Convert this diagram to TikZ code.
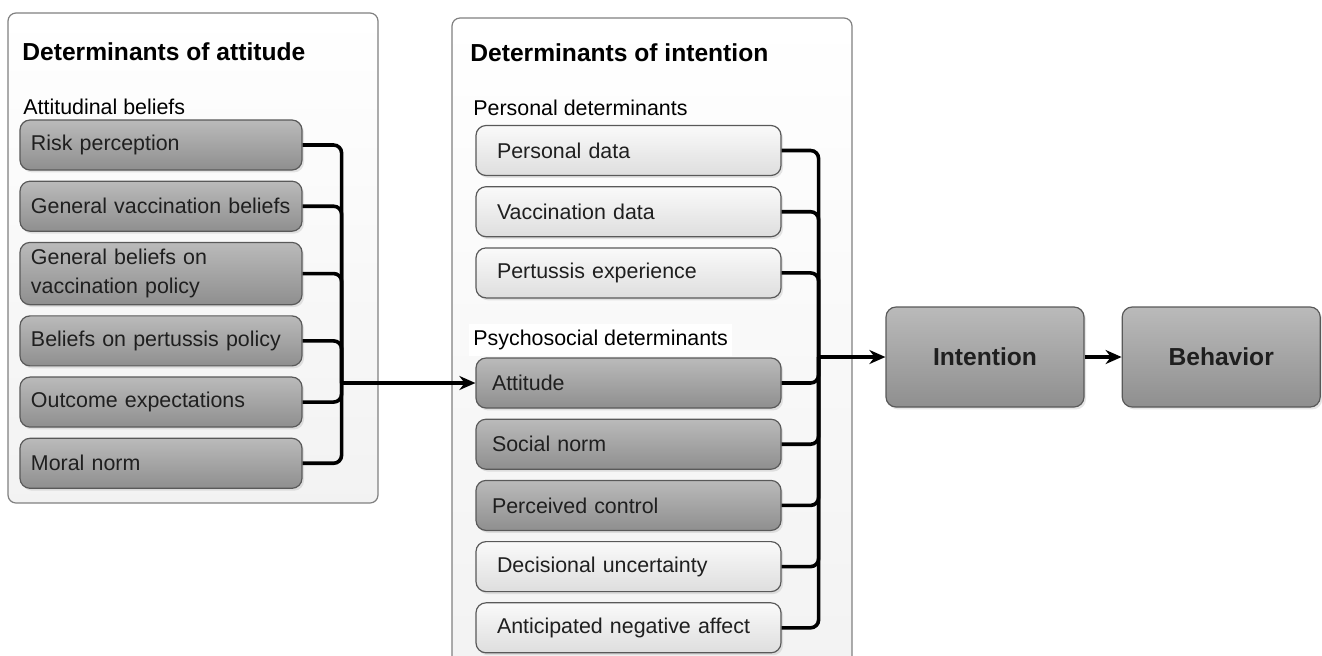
\documentclass[tikz,border=0pt]{standalone}
\usepackage{fontspec}
\setmainfont{Liberation Sans}
\usetikzlibrary{arrows.meta, positioning, shadows}

\begin{document}
\begin{tikzpicture}[x=0.5pt, y=-0.5pt, node distance=5pt, >=Stealth, font=\fontsize{10.7}{14.5}\selectfont]
  % Define styles
  \tikzstyle{panel} = [rectangle, rounded corners=4pt, draw=black!50, line width=0.6pt, top color=white, bottom color=black!5]
  \tikzstyle{heading} = [anchor=west, inner sep=0pt, font=\fontsize{12.3}{14}\selectfont\bfseries]
  \tikzstyle{group} = [anchor=west, inner sep=0pt]
  \tikzstyle{darkbox} = [rectangle, rounded corners=5pt, draw=black!65, line width=0.6pt, top color=black!27, bottom color=black!44, drop shadow={opacity=0.2, shadow xshift=1pt, shadow yshift=-1.2pt}, align=left, text=black!88, minimum height=25pt]
  \tikzstyle{lightbox} = [darkbox, top color=black!2, bottom color=black!13]
  \tikzstyle{attbox} = [darkbox, inner xsep=5.5pt, text width=130pt]
  \tikzstyle{intdark} = [darkbox, inner xsep=8pt, text width=136.5pt]
  \tikzstyle{intlight} = [lightbox, inner xsep=10.5pt, text width=131.5pt]
  \tikzstyle{stage} = [darkbox, align=center, minimum width=99pt, minimum height=50pt, font=\fontsize{12.3}{14}\selectfont\bfseries]
  \tikzstyle{line} = [draw, line width=1.8pt, rounded corners=4pt]
  \tikzstyle{arrow} = [line, sharp corners, -{Stealth[length=8pt, width=7pt]}]

  \clip (0,0) rectangle (1322,655);

  % Place nodes
  \node [panel, minimum width=185pt, minimum height=245pt] (attpanel) at (193,258) {};
  \node [panel, minimum width=200pt, minimum height=331pt] (intpanel) at (652,349) {};

  \node [heading] (atttitle) at (22,52) {Determinants of attitude};
  \node [group] (attbeliefs) at (23,107) {Attitudinal beliefs};
  \node [attbox] (risk) at (161,145) {Risk perception};
  \node [attbox, below=of risk] (genvac) {General vaccination beliefs};
  \node [attbox, below=of genvac, minimum height=30.5pt] (genpol) {General beliefs on\\vaccination policy};
  \node [attbox, below=of genpol] (perpol) {Beliefs on pertussis policy};
  \node [attbox, below=of perpol] (outcome) {Outcome expectations};
  \node [attbox, below=of outcome] (moral) {Moral norm};

  \node [heading] (inttitle) at (470,53) {Determinants of intention};
  \node [group] (persdet) at (473,108) {Personal determinants};
  \node [intlight] (persdata) at (628.5,150.5) {Personal data};
  \node [intlight, below=of persdata] (vacdata) {Vaccination data};
  \node [intlight, below=of vacdata] (pertexp) {Pertussis experience};
  \node [group, fill=white, inner xsep=2pt, inner ysep=3pt] (psydet) at (469,340) {Psychosocial determinants};
  \node [intdark] (attitude) at (628.5,383) {Attitude};
  \node [intdark, below=of attitude] (socnorm) {Social norm};
  \node [intdark, below=of socnorm] (percon) {Perceived control};
  \node [intlight, below=of percon] (decunc) {Decisional uncertainty};
  \node [intlight, below=of decunc] (antneg) {Anticipated negative affect};

  \node [stage] (intention) at (985,357) {Intention};
  \node [stage, right=18.5pt of intention] (behavior) {Behavior};

  % Draw edges
  \coordinate (jleft) at ([xshift=19.5pt]attitude.west -| moral.east);
  \foreach \src in {risk, genvac, genpol, perpol, outcome, moral}
    \path [line] (\src.east) -| (jleft);
  \path [arrow] (jleft) -- (attitude.west);

  \coordinate (jright) at ([xshift=18.5pt]intention.west -| persdata.east);
  \foreach \src in {persdata, vacdata, pertexp, attitude, socnorm, percon, decunc, antneg}
    \path [line] (\src.east) -| (jright);
  \path [arrow] (jright) -- (intention.west);
  \path [arrow] (intention.east) -- (behavior.west);
\end{tikzpicture}
\end{document}
